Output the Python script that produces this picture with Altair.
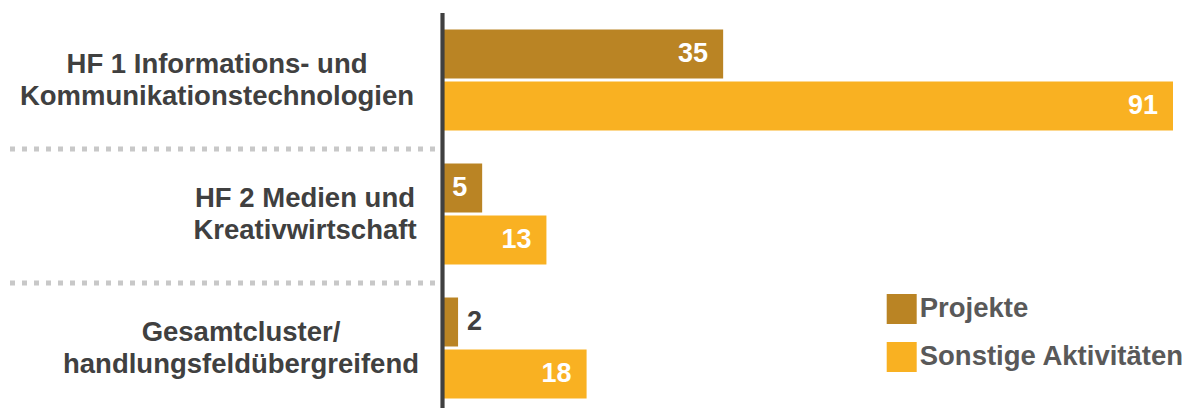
import altair as alt
import pandas as pd

# ---- data ----
categories = ["HF1", "HF2", "GC"]
category_labels = [
    "HF 1 Informations- und\nKommunikationstechnologien",
    "HF 2 Medien und\nKreativwirtschaft",
    "Gesamtcluster/\nhandlungsfeldübergreifend",
]
series = ["Projekte", "Sonstige Aktivitäten"]
projekte = [35, 5, 2]
sonstige = [91, 13, 18]

# ---- layout / style ----
PLOT_W, PLOT_H = 731, 402
LABEL_CENTER_X = {"HF1": 217 - 442, "HF2": 305 - 442, "GC": 241 - 442}
FONT = "Liberation Sans"
DARK = "#404040"
COLORS = ["#BA8424", "#F9B122"]

rows = []
for c, lab, p, s in zip(categories, category_labels, projekte, sonstige):
    rows.append({"cat": c, "label": lab, "series": series[0], "value": p})
    rows.append({"cat": c, "label": lab, "series": series[1], "value": s})
df = pd.DataFrame(rows)
cats_df = pd.DataFrame({"cat": categories, "label": category_labels})

y_enc = alt.Y("cat:N", sort=categories, axis=None,
              scale=alt.Scale(domain=categories, paddingInner=0, paddingOuter=0))
yoff_enc = alt.YOffset("series:N", sort=series,
                       scale=alt.Scale(domain=series, paddingInner=0.0577, paddingOuter=0.3173))
x_enc = alt.X("value:Q", axis=None, scale=alt.Scale(domain=[0, 91], nice=False, zero=True))

base = alt.Chart(df)

bars = base.mark_bar().encode(
    x=x_enc,
    y=y_enc,
    yOffset=yoff_enc,
    color=alt.Color(
        "series:N",
        sort=series,
        scale=alt.Scale(domain=series, range=COLORS),
        legend=alt.Legend(
            title=None, orient="none", legendX=444.7, legendY=281,
            symbolType="square", symbolSize=900, symbolStrokeWidth=0, symbolOpacity=1,
            labelFont=FONT, labelFontSize=27.5, labelFontWeight="bold", labelColor="#595959",
            labelLimit=400, labelOffset=3, rowPadding=18, padding=0,
        ),
    ),
)

inside_labels = base.transform_filter("datum.value >= 4").mark_text(
    align="right", baseline="middle", dx=-15, font=FONT, fontSize=27, fontWeight="bold", color="white"
).encode(x=x_enc, y=y_enc, yOffset=yoff_enc, text="value:Q")

outside_labels = base.transform_filter("datum.value < 4").mark_text(
    align="left", baseline="middle", dx=9, font=FONT, fontSize=27, fontWeight="bold", color=DARK
).encode(x=x_enc, y=y_enc, yOffset=yoff_enc, text="value:Q")

axis_line = alt.Chart(cats_df).mark_rule(color=DARK, strokeWidth=3.5).encode(
    x=alt.value(0.5), y=alt.value(0), y2=alt.value(PLOT_H)
)

separators = alt.Chart(cats_df).transform_filter("datum.cat != 'HF1'").mark_rule(
    color="#C8C8C8", strokeWidth=5, strokeDash=[5, 7], yOffset=2
).encode(
    y=alt.Y("cat:N", sort=categories, axis=None, bandPosition=0,
            scale=alt.Scale(domain=categories, paddingInner=0, paddingOuter=0)),
    x=alt.value(10 - 442), x2=alt.value(437 - 442),
)

cat_layers = []
for c in categories:
    cat_layers.append(
        alt.Chart(cats_df).transform_filter(f"datum.cat == '{c}'").mark_text(
            align="center", baseline="middle", font=FONT, fontSize=27.5, fontWeight="bold",
            color=DARK, lineBreak="\n", lineHeight=32, dy=-15,
        ).encode(y=y_enc, x=alt.value(LABEL_CENTER_X[c]), text="label:N")
    )

chart = alt.layer(separators, bars, inside_labels, outside_labels, axis_line, *cat_layers).properties(
    width=PLOT_W, height=PLOT_H,
    autosize=alt.AutoSizeParams(type="none"),
    padding={"left": 442, "top": 13, "right": 20, "bottom": -7},
).configure_view(stroke=None)

chart.save("out.html", embed_options={"renderer": "svg", "actions": False})
